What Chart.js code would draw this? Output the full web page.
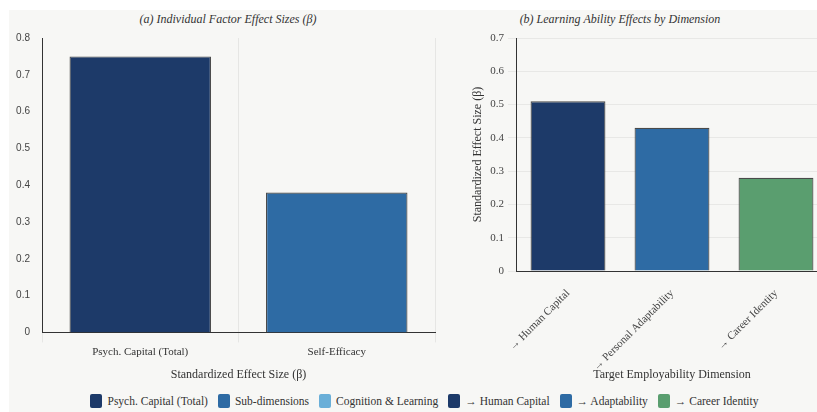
<!DOCTYPE html>
<html>
<head>
<meta charset="utf-8">
<script src="https://cdn.jsdelivr.net/npm/chart.js@4.4.1/dist/chart.umd.min.js"></script>
<style>
  html, body { margin: 0; padding: 0; background: #fff; overflow: hidden; width: 817px; height: 412px; }
  #card { position: absolute; left: 9px; top: 10px; width: 831px; height: 402px; background: #f7f7f5; }
  .ptitle { position: absolute; top: 2px; font: italic 12px "Liberation Serif", serif; color: #333; white-space: nowrap; transform: translateX(-50%); }
  .panel { position: absolute; top: 0; height: 376px; }
  #legend { position: absolute; left: 0; right: 0; top: 384px; text-align: center; font: 11.5px "Liberation Serif", serif; color: #333; white-space: nowrap; }
  .item { display: inline-flex; align-items: center; margin: 0 5px; }
  .sw { display: inline-block; width: 12px; height: 14px; border-radius: 2px; margin-right: 5px; }
</style>
</head>
<body>
<div id="card">
  <div class="ptitle" style="left:219px">(a) Individual Factor Effect Sizes (β)</div>
  <div class="ptitle" style="left:611px">(b) Learning Ability Effects by Dimension</div>
  <div class="panel" style="left:0;width:436px"><canvas id="chart-a"></canvas></div>
  <div class="panel" style="left:431px;width:400px"><canvas id="chart-b"></canvas></div>
  <div id="legend"></div>
</div>
<script>
  var NAVY = "#1d3a69";
  var BLUE = "#2e6ba4";
  var LIGHT = "#6aafd8";
  var GREEN = "#5a9e6f";
  var EDGE = "#4a4a4a";
  var INK = "#333";
  var SERIF = "'Liberation Serif', 'Times New Roman', serif";
  var SANS = "'Liberation Sans', Arial, sans-serif";

  // (a) individual factors
  var factorLabels = ["Psych. Capital (Total)", "Self-Efficacy"];
  var factorBeta = [0.75, 0.38];
  var factorColors = [NAVY, BLUE];

  // (b) learning ability by employability dimension
  var dimLabels = ["→ Human Capital", "→ Personal Adaptability", "→ Career Identity"];
  var dimBeta = [0.51, 0.43, 0.28];
  var dimColors = [NAVY, BLUE, GREEN];

  // shared legend
  var legendLabels = ["Psych. Capital (Total)", "Sub-dimensions", "Cognition & Learning", "→ Human Capital", "→ Adaptability", "→ Career Identity"];
  var legendColors = [NAVY, BLUE, LIGHT, NAVY, BLUE, GREEN];

  Chart.defaults.font.family = SERIF;
  Chart.defaults.color = INK;
  Chart.defaults.animation = false;

  var leg = document.getElementById("legend");
  legendLabels.forEach(function (t, i) {
    var it = document.createElement("span");
    it.className = "item";
    var sw = document.createElement("span");
    sw.className = "sw";
    sw.style.background = legendColors[i];
    it.appendChild(sw);
    it.appendChild(document.createTextNode(t));
    leg.appendChild(it);
  });

  new Chart(document.getElementById("chart-a"), {
    type: "bar",
    data: {
      labels: factorLabels,
      datasets: [{
        data: factorBeta,
        backgroundColor: factorColors,
        borderColor: EDGE,
        borderWidth: 1.2
      }]
    },
    options: {
      responsive: true, maintainAspectRatio: false,
      layout: { padding: { top: 28, right: 10 } },
      plugins: { legend: { display: false }, tooltip: { enabled: false } },
      scales: {
        x: {
          grid: { color: "#e6e6e4", tickLength: 10 },
          border: { color: INK, width: 1 },
          ticks: { font: { size: 11 }, color: INK, padding: 3 },
          title: { display: true, text: "Standardized Effect Size (β)", font: { size: 12 }, color: INK, padding: { top: 6, bottom: 4 } }
        },
        y: {
          min: 0, max: 0.8,
          grid: { display: false, drawTicks: false },
          border: { color: INK, width: 1 },
          ticks: { stepSize: 0.1, font: { family: SANS, size: 10 }, color: "#444", padding: 12 },
          afterFit: function (s) { s.width = 33; }
        }
      }
    }
  });

  new Chart(document.getElementById("chart-b"), {
    type: "bar",
    data: {
      labels: dimLabels,
      datasets: [{
        data: dimBeta,
        backgroundColor: dimColors,
        borderColor: EDGE,
        borderWidth: 1.2
      }]
    },
    options: {
      responsive: true, maintainAspectRatio: false,
      layout: { padding: { top: 28, left: 27, right: 12 } },
      plugins: { legend: { display: false }, tooltip: { enabled: false } },
      scales: {
        x: {
          grid: { display: false },
          border: { color: INK, width: 1 },
          ticks: { font: { size: 11 }, color: "#444", minRotation: 45, maxRotation: 45, padding: 8 },
          title: { display: true, text: "Target Employability Dimension", font: { size: 12 }, color: INK, padding: { top: 4, bottom: 4 } },
          afterFit: function (s) { s.height = 115; }
        },
        y: {
          min: 0, max: 0.7,
          grid: { color: "#e8e8e6", tickLength: 8 },
          border: { color: INK, width: 1 },
          ticks: { stepSize: 0.1, font: { size: 11 }, color: "#444", padding: 4 },
          title: { display: true, text: "Standardized Effect Size (β)", font: { size: 12 }, color: INK, padding: { top: 4, bottom: 4 } },
          afterFit: function (s) { s.width = 49; }
        }
      }
    }
  });
</script>
</body>
</html>
